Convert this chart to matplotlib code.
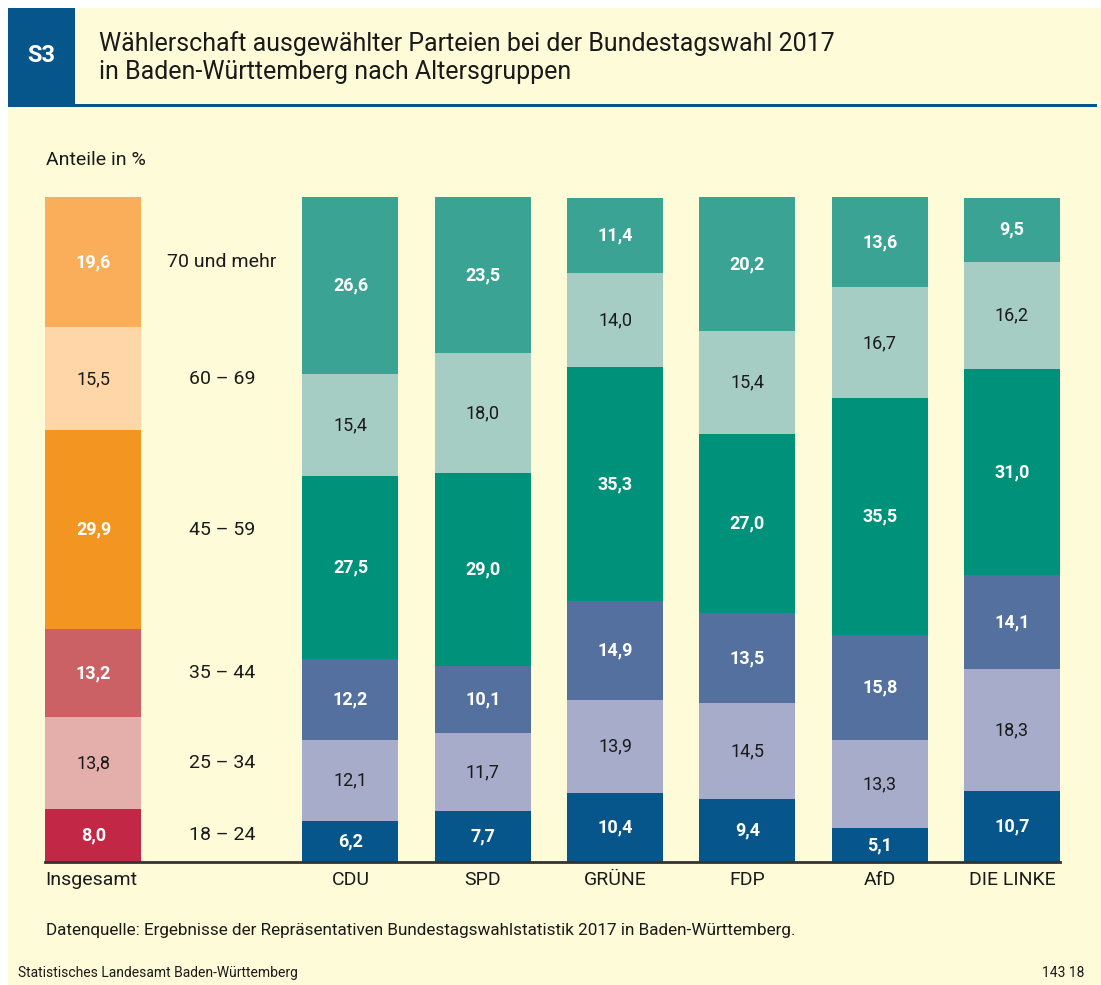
import matplotlib.pyplot as plt
import numpy as np
from matplotlib.patches import Rectangle

plt.rcParams['font.family'] = ['Roboto', 'DejaVu Sans']

W, H = 1101, 985

# age groups from bottom to top
ages = ['18 – 24', '25 – 34', '35 – 44', '45 – 59', '60 – 69', '70 und mehr']
parties = ['CDU', 'SPD', 'GRÜNE', 'FDP', 'AfD', 'DIE LINKE']

total = [8.0, 13.8, 13.2, 29.9, 15.5, 19.6]
cdu = [6.2, 12.1, 12.2, 27.5, 15.4, 26.6]
spd = [7.7, 11.7, 10.1, 29.0, 18.0, 23.5]
gruene = [10.4, 13.9, 14.9, 35.3, 14.0, 11.4]
fdp = [9.4, 14.5, 13.5, 27.0, 15.4, 20.2]
afd = [5.1, 13.3, 15.8, 35.5, 16.7, 13.6]
linke = [10.7, 18.3, 14.1, 31.0, 16.2, 9.5]
party_values = [cdu, spd, gruene, fdp, afd, linke]

total_colors = ['#C22846', '#E4AEAA', '#CC6165', '#F39521', '#FED6A8', '#FAAE5A']
party_colors = ['#06568B', '#A6ACCA', '#53709F', '#00917A', '#A6CDC4', '#3AA394']
white_text = [True, False, True, True, False, True]

bg = '#FEFBD9'
blue = '#07568B'
ink = '#1a1a1a'

fig = plt.figure(figsize=(W / 100, H / 100), dpi=100)
fig.patch.set_facecolor('white')


def fx(x):
    return x / W


def fy(y):
    return 1 - y / H


# panel background
fig.patches.append(Rectangle((fx(8), 0), 1 - fx(8), fy(8), transform=fig.transFigure,
                             facecolor=bg, edgecolor='none', zorder=-3))
# header box
fig.patches.append(Rectangle((fx(8), fy(105)), fx(75) - fx(8), fy(8) - fy(105),
                             transform=fig.transFigure, facecolor=blue, edgecolor='none', zorder=-2))
# line under header
fig.patches.append(Rectangle((fx(8), fy(107)), fx(1097) - fx(8), 3 / H,
                             transform=fig.transFigure, facecolor=blue, edgecolor='none', zorder=-2))

fig.text(fx(41), fy(55), 'S3', color='white', fontsize=17, fontweight='bold',
         ha='center', va='center')
fig.text(fx(99), fy(44), 'Wählerschaft ausgewählter Parteien bei der Bundestagswahl 2017',
         fontsize=18, color=ink, ha='left', va='center')
fig.text(fx(99), fy(72), 'in Baden-Württemberg nach Altersgruppen',
         fontsize=18, color=ink, ha='left', va='center')
fig.text(fx(46), fy(160), 'Anteile in %', fontsize=14, color=ink, ha='left', va='center')

# chart axes: x in units of bar spacing, CDU at 0
step = 132.3
x0 = 350.5
ax = fig.add_axes([fx(8), fy(862), fx(1095) - fx(8), fy(197) - fy(862)])
ax.set_zorder(2)
ax.set_xlim((8 - x0) / step, (1095 - x0) / step)
ax.set_ylim(0, 100)
ax.axis('off')

bw = 96 / step
x_total = (93.5 - x0) / step
x_age = (222 - x0) / step


def draw_stack(x, vals, colors):
    bottom = 0
    for i, v in enumerate(vals):
        ax.bar(x, v, bottom=bottom, width=bw, color=colors[i], edgecolor='none')
        ax.text(x, bottom + v / 2, f'{v:.1f}'.replace('.', ','),
                ha='center', va='center', fontsize=13,
                color='white' if white_text[i] else ink,
                fontweight='bold' if white_text[i] else 'normal')
        bottom += v


draw_stack(x_total, total, total_colors)
for j, vals in enumerate(party_values):
    draw_stack(j, vals, party_colors)

# age labels next to total bar
cum = np.cumsum([0] + total)
for i, a in enumerate(ages):
    ax.text(x_age, (cum[i] + cum[i + 1]) / 2, a, ha='center', va='center',
            fontsize=14, color=ink)

# baseline
ax.plot([x_total - bw / 2, 5 + bw / 2], [0, 0], color='#333333', lw=2, clip_on=False)

ax.text(x_total - bw / 2, -1.4, 'Insgesamt', ha='left', va='top', fontsize=14, color=ink)
for j, p in enumerate(parties):
    ax.text(j, -1.4, p, ha='center', va='top', fontsize=14, color=ink)

fig.text(fx(46), fy(930), 'Datenquelle: Ergebnisse der Repräsentativen Bundestagswahlstatistik 2017 in Baden-Württemberg.',
         fontsize=12.3, color=ink, ha='left', va='center')
fig.text(fx(18), fy(973), 'Statistisches Landesamt Baden-Württemberg', fontsize=10,
         color=ink, ha='left', va='center')
fig.text(fx(1084), fy(973), '143 18', fontsize=10, color=ink, ha='right', va='center')

fig.savefig('out.png', dpi=100, facecolor=fig.get_facecolor())
